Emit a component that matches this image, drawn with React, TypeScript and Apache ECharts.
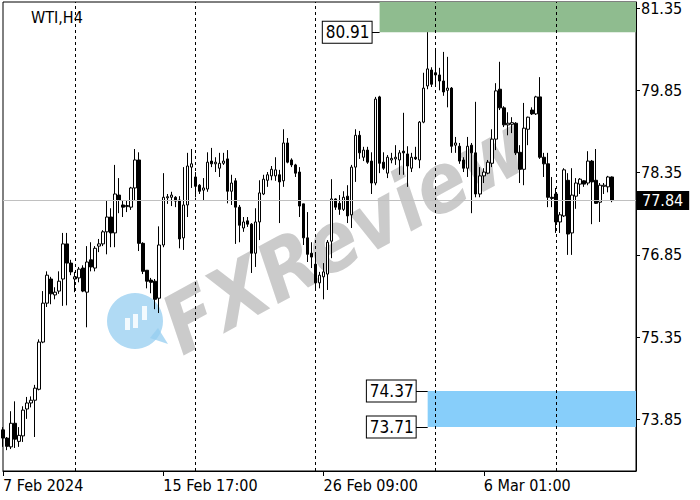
import React, { useEffect, useRef } from 'react';
import * as echarts from 'echarts';

const opens = [
  73.66, 73.51, 73.35, 73.78, 73.45, 73.55, 74.04, 74.15, 74.20, 74.40,
  75.26, 75.97, 76.41, 76.12, 76.19, 76.41, 77.05, 76.70, 76.41, 76.43,
  76.61, 76.17, 76.76, 76.61, 77.01, 77.05, 77.27, 77.54, 77.25, 77.94,
  77.76, 77.73, 77.72, 78.07, 78.58, 77.06, 76.57, 76.39, 76.37, 76.06,
  77.03, 77.89, 77.90, 77.90, 77.85, 77.16, 77.76, 78.45, 78.27, 78.12,
  78.03, 78.05, 78.56, 78.51, 78.43, 78.52, 78.60, 78.01, 78.20, 77.72,
  77.34, 77.47, 77.41, 76.88, 77.45, 77.96, 78.21, 78.29, 78.29, 78.31,
  78.20, 78.89, 78.58, 78.49, 78.36, 77.78, 77.16, 76.88, 76.68, 76.34,
  76.45, 76.50, 77.10, 77.87, 77.79, 77.68, 77.92, 77.58, 78.45, 79.03,
  78.63, 78.76, 78.56, 78.16, 79.73, 78.54, 78.34, 78.58, 78.60, 78.58,
  78.74, 78.69, 78.43, 78.63, 78.58, 79.27, 79.93, 80.22, 80.17, 80.13,
  80.02, 79.85, 79.89, 78.85, 78.83, 78.58, 78.43, 78.85, 78.71, 77.96,
  78.29, 78.34, 78.52, 78.96, 79.87, 79.53, 79.22, 79.23, 79.25, 78.72,
  78.41, 79.14, 79.49, 79.42, 79.73, 78.63, 78.51, 77.90, 77.96, 77.45,
  77.56, 78.21, 77.25, 77.92, 78.14, 78.20, 78.16, 78.56, 78.21, 77.81,
  78.10, 78.09, 78.27,
];
const closes = [
  73.51, 73.36, 73.78, 73.49, 73.56, 74.02, 74.15, 74.20, 74.42, 75.26,
  75.97, 76.48, 76.14, 76.17, 76.37, 77.05, 76.70, 76.54, 76.45, 76.59,
  76.19, 76.72, 76.63, 76.97, 77.05, 77.27, 77.54, 77.25, 77.96, 77.85,
  77.72, 77.75, 78.07, 78.58, 77.06, 76.55, 76.37, 76.35, 76.04, 77.03,
  77.90, 77.91, 77.94, 77.83, 77.14, 77.76, 78.47, 78.51, 78.10, 78.01,
  78.07, 78.54, 78.51, 78.54, 78.52, 78.56, 78.01, 78.16, 77.72, 77.39,
  77.45, 77.41, 76.88, 77.45, 77.98, 78.23, 78.31, 78.41, 78.40, 78.18,
  78.89, 78.54, 78.49, 78.34, 77.74, 77.16, 76.86, 76.81, 76.34, 76.48,
  76.54, 77.08, 77.87, 77.72, 77.68, 77.90, 77.56, 78.45, 79.03, 78.71,
  78.76, 78.54, 78.16, 79.69, 78.52, 78.43, 78.63, 78.61, 78.63, 78.71,
  78.71, 78.47, 78.63, 78.60, 79.27, 79.89, 80.24, 79.96, 80.13, 80.02,
  79.82, 79.89, 78.83, 78.89, 78.56, 78.43, 78.83, 78.71, 77.96, 78.29,
  78.36, 78.54, 78.96, 79.84, 79.53, 79.22, 79.25, 79.26, 78.71, 78.41,
  79.16, 79.36, 79.42, 79.73, 78.63, 78.51, 77.90, 77.88, 77.45, 77.58,
  78.40, 77.23, 77.94, 78.16, 78.23, 78.14, 78.56, 78.18, 77.79, 78.12,
  78.12, 78.27, 77.84,
];
const lows = [
  73.35, 73.29, 73.31, 73.33, 73.35, 73.44, 73.86, 74.07, 73.53, 74.38,
  75.24, 75.90, 75.95, 76.04, 76.14, 75.92, 75.93, 76.48, 76.17, 76.35,
  76.17, 75.53, 76.55, 76.55, 76.90, 77.01, 76.86, 76.99, 76.99, 77.61,
  77.54, 77.63, 77.67, 77.85, 76.92, 76.50, 76.24, 76.15, 75.86, 75.79,
  76.99, 77.78, 77.74, 77.72, 76.97, 76.94, 77.54, 78.07, 77.90, 77.96,
  77.85, 78.00, 78.45, 78.36, 78.27, 78.49, 77.79, 77.76, 77.05, 77.08,
  77.27, 77.36, 76.52, 76.63, 77.12, 77.94, 78.09, 78.21, 78.20, 77.43,
  78.09, 78.52, 78.45, 78.27, 77.54, 77.03, 76.72, 76.61, 76.24, 76.24,
  76.04, 76.21, 76.79, 77.67, 77.58, 77.65, 77.43, 77.34, 78.18, 78.60,
  78.56, 78.51, 77.96, 78.12, 78.34, 78.40, 78.25, 78.52, 78.49, 78.31,
  78.31, 78.09, 78.36, 78.58, 78.43, 79.25, 79.87, 79.91, 79.91, 79.85,
  79.75, 79.54, 78.71, 78.71, 78.51, 78.36, 78.27, 77.61, 77.90, 77.90,
  78.16, 78.32, 78.45, 78.76, 79.49, 79.18, 79.03, 79.07, 78.67, 78.16,
  78.12, 78.85, 79.40, 79.40, 78.60, 78.27, 77.72, 77.72, 77.25, 77.25,
  77.54, 76.85, 76.85, 77.69, 77.96, 78.09, 78.12, 77.41, 77.78, 77.45,
  77.96, 77.99, 77.81,
];
const highs = [
  73.71, 73.53, 74.00, 74.18, 73.71, 74.09, 74.26, 74.27, 74.48, 75.31,
  76.19, 76.55, 76.45, 76.26, 76.55, 77.25, 77.25, 76.76, 76.54, 76.63,
  76.66, 77.01, 77.08, 77.01, 77.14, 77.30, 77.85, 77.70, 78.49, 78.25,
  77.85, 77.85, 78.09, 78.78, 78.72, 77.08, 76.57, 76.43, 76.41, 77.37,
  78.34, 77.96, 78.00, 77.92, 77.92, 78.45, 78.71, 78.78, 78.36, 78.14,
  78.25, 78.72, 78.80, 78.63, 78.71, 78.71, 78.76, 78.31, 78.25, 77.76,
  77.54, 77.54, 77.43, 77.70, 78.21, 78.31, 78.36, 78.47, 78.63, 78.40,
  79.14, 78.98, 78.61, 78.51, 78.45, 77.78, 77.63, 77.08, 76.88, 76.54,
  76.70, 77.12, 78.23, 77.88, 77.94, 78.01, 78.12, 78.49, 79.14, 79.11,
  78.82, 78.82, 78.72, 79.73, 79.75, 78.72, 78.67, 78.71, 78.85, 78.76,
  79.44, 78.83, 78.71, 78.82, 79.29, 80.17, 80.91, 80.27, 80.60, 80.26,
  80.55, 80.46, 79.91, 79.00, 78.89, 78.63, 79.00, 78.89, 79.64, 78.45,
  78.43, 78.58, 79.14, 79.98, 80.37, 79.56, 79.45, 79.36, 79.27, 78.85,
  79.62, 79.37, 79.54, 79.75, 80.09, 78.71, 78.71, 78.27, 78.07, 77.63,
  78.43, 78.34, 78.43, 78.25, 78.25, 78.21, 78.74, 78.58, 78.78, 78.16,
  78.16, 78.29, 78.28,
];

// chart has 6 empty bar slots on the right
const SLOT_COUNT = 159;
const xTicks: [number, string][] = [
  [0, '7 Feb 2024'],
  [40, '15 Feb 17:00'],
  [80, '26 Feb 09:00'],
  [120, '6 Mar 01:00'],
];
const separators = [18, 48, 78, 108, 138];
const yTicks = [73.85, 75.35, 76.85, 78.35, 79.85, 81.35];
const Y_MIN = 72.91;
const Y_MAX = 81.46;
const lastPrice = 77.84;
const resistance = { low: 80.91, high: Y_MAX, fromIdx: 94 };
const support = { low: 73.71, high: 74.37, fromIdx: 106 };

const FONT = '"DejaVu Sans Condensed", "DejaVu Sans", sans-serif';

export default function App() {
  const ref = useRef<HTMLDivElement>(null);
  useEffect(() => {
    const chart = echarts.init(ref.current!, null, { renderer: 'svg' });
    const categories = Array.from({ length: SLOT_COUNT }, (_, i) => String(i));
    const data = opens.map((o, i) => [o, closes[i], lows[i], highs[i]]);
    const tickIdx = xTicks.map((t) => t[0]);
    const boxLabel = (txt: string) => ({
      show: true,
      position: 'start',
      distance: 0,
      formatter: txt,
      color: '#000',
      fontSize: 17,
      fontFamily: FONT,
      backgroundColor: '#fff',
      borderColor: '#000',
      borderWidth: 1,
      padding: [3, 2, 1, 3],
    });
    const blackLine = { color: '#000', type: 'solid', width: 1 };
    chart.setOption({
      animation: false,
      backgroundColor: '#fff',
      title: {
        text: 'WTI,H4',
        left: 26,
        top: 4,
        textStyle: { fontSize: 16, fontWeight: 'normal', color: '#000', fontFamily: FONT },
      },
      grid: {
        left: 3,
        right: 64,
        top: 2,
        bottom: 29,
        show: true,
        borderColor: '#000',
        borderWidth: 1,
        backgroundColor: 'transparent',
      },
      xAxis: {
        type: 'category',
        data: categories,
        boundaryGap: false,
        axisLine: { show: true, lineStyle: { color: '#000' } },
        axisTick: {
          show: true,
          interval: (i: number) => tickIdx.includes(i),
          length: 5,
          lineStyle: { color: '#000' },
        },
        axisLabel: {
          interval: (i: number) => tickIdx.includes(i),
          formatter: (v: string) => {
            const t = xTicks.find((x) => String(x[0]) === v);
            return t ? t[1] : '';
          },
          align: 'left',
          margin: 6,
          color: '#000',
          fontSize: 16,
          fontFamily: FONT,
        },
        splitLine: { show: false },
      },
      yAxis: {
        type: 'value',
        position: 'right',
        min: Y_MIN,
        max: Y_MAX,
        scale: true,
        axisLine: { show: true, lineStyle: { color: '#000' } },
        axisTick: { show: true, customValues: yTicks, length: 4, lineStyle: { color: '#000' } },
        axisLabel: {
          customValues: yTicks,
          formatter: (v: number) => v.toFixed(2),
          color: '#000',
          fontSize: 16,
          fontFamily: FONT,
          margin: 5,
        },
        splitLine: { show: false },
      },
      graphic: [
        {
          type: 'text',
          x: 345,
          y: 235,
          rotation: 0.5,
          z: 0,
          style: {
            text: 'FXReview',
            fontSize: 82,
            fontWeight: 'bold',
            fontStyle: 'italic',
            fontFamily: FONT,
            fill: 'rgba(190,190,190,0.8)',
            align: 'center',
            verticalAlign: 'middle',
          },
        },
        {
          type: 'group',
          z: 0,
          children: [
            { type: 'circle', shape: { cx: 135, cy: 321, r: 28 }, style: { fill: 'rgba(150,205,240,0.75)' } },
            { type: 'polygon', shape: { points: [[150, 338], [168, 344], [158, 328]] }, style: { fill: 'rgba(150,205,240,0.75)' } },
            { type: 'rect', shape: { x: 125, y: 318, width: 5, height: 12 }, style: { fill: 'rgba(255,255,255,0.85)' } },
            { type: 'rect', shape: { x: 133, y: 314, width: 5, height: 14 }, style: { fill: 'rgba(255,255,255,0.85)' } },
            { type: 'rect', shape: { x: 142, y: 306, width: 5, height: 14 }, style: { fill: 'rgba(255,255,255,0.85)' } },
          ],
        },
      ],
      series: [
        {
          type: 'candlestick',
          data,
          barWidth: 3,
          z: 3,
          itemStyle: {
            color: '#fff',
            color0: '#000',
            borderColor: '#000',
            borderColor0: '#000',
            borderWidth: 1,
          },
          markArea: {
            silent: true,
            data: [
              [
                { xAxis: resistance.fromIdx, yAxis: resistance.low, itemStyle: { color: '#8fbc8f', opacity: 1 } },
                { xAxis: SLOT_COUNT - 1, yAxis: resistance.high },
              ],
              [
                { xAxis: support.fromIdx, yAxis: support.high, itemStyle: { color: '#87cefa', opacity: 1 } },
                { xAxis: SLOT_COUNT - 1, yAxis: support.low },
              ],
            ],
          },
          markLine: {
            silent: true,
            symbol: ['none', 'none'],
            label: { show: false },
            data: [
              ...separators.map((i) => ({
                xAxis: i,
                lineStyle: { color: '#000', type: [3, 3], width: 1 },
              })),
              {
                yAxis: lastPrice,
                lineStyle: { color: '#c0c0c0', type: 'solid', width: 1 },
                label: {
                  show: true,
                  position: 'end',
                  distance: 1,
                  formatter: lastPrice.toFixed(2),
                  color: '#fff',
                  backgroundColor: '#000',
                  padding: [2, 6, 1, 5],
                  fontSize: 16,
                  fontFamily: FONT,
                },
              },
              [
                { xAxis: 92, yAxis: resistance.low, lineStyle: blackLine, label: boxLabel(resistance.low.toFixed(2)) },
                { xAxis: resistance.fromIdx, yAxis: resistance.low },
              ],
              [
                { xAxis: 103, yAxis: support.high, lineStyle: blackLine, label: boxLabel(support.high.toFixed(2)) },
                { xAxis: support.fromIdx, yAxis: support.high },
              ],
              [
                { xAxis: 103, yAxis: support.low, lineStyle: blackLine, label: boxLabel(support.low.toFixed(2)) },
                { xAxis: support.fromIdx, yAxis: support.low },
              ],
            ],
          },
        },
      ],
    });
    return () => chart.dispose();
  }, []);
  return (
    <div
      ref={ref}
      style={{ position: 'fixed', left: 0, top: 0, width: 700, height: 500, background: '#fff' }}
    />
  );
}
